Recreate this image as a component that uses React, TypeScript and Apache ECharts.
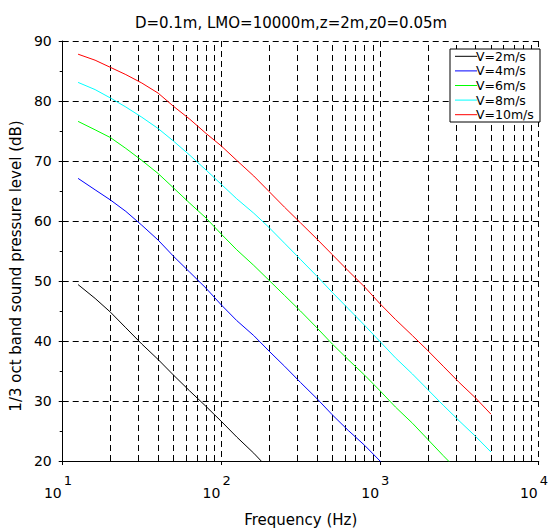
import React, { useEffect, useRef } from 'react';
import * as echarts from 'echarts';

const titleText = 'D=0.1m, LMO=10000m,z=2m,z0=0.05m';
const xName = 'Frequency (Hz)';
const yName = '1/3 oct band sound pressure level (dB)';

// 1/3-octave band centre frequencies (Hz)
const freqs = [12.5, 16, 20, 25, 31.5, 40, 50, 63, 80, 100, 125, 160, 200, 250, 315, 400, 500, 630, 800, 1000, 1250, 1600, 2000, 2500, 3150, 4000, 5000];

const v2 = [49.4, 47.1, 44.8, 42.2, 39.5, 36.9, 34.3, 31.7, 29.1, 26.6, 24.0, 21.3, 18.6];
const v4 = [67.1, 65.2, 63.5, 61.6, 59.3, 56.8, 54.1, 51.5, 48.8, 46.0, 43.4, 40.9, 38.3, 35.8, 33.1, 30.4, 27.7, 25.1, 22.6, 20.0, 17.4];
const v6 = [76.6, 75.2, 73.9, 72.1, 70.1, 67.9, 65.5, 63.0, 60.5, 57.8, 55.2, 52.6, 50.1, 47.6, 45.0, 42.2, 39.5, 36.9, 34.3, 31.7, 29.0, 26.3, 23.6, 20.9, 18.2];
const v8 = [83.1, 81.9, 80.5, 79.0, 77.3, 75.4, 73.3, 71.0, 68.5, 66.1, 63.7, 61.3, 58.9, 56.3, 53.6, 50.8, 48.1, 45.4, 42.6, 39.9, 37.2, 34.5, 31.9, 29.3, 26.7, 24.1, 21.5];
const v10 = [87.8, 86.8, 85.6, 84.4, 83.0, 81.3, 79.1, 77.0, 74.6, 72.5, 70.1, 67.5, 64.9, 62.3, 59.7, 57.0, 54.4, 51.7, 49.0, 46.2, 43.6, 40.9, 38.4, 35.8, 33.1, 30.5, 27.8];

const seriesNames = ['V=2m/s', 'V=4m/s', 'V=6m/s', 'V=8m/s', 'V=10m/s'];
const seriesValues = [v2, v4, v6, v8, v10];
const seriesColors = ['#000000', '#0000ff', '#00ff00', '#00ffff', '#ff0000'];

// log-minor grid positions
const minorGridFreqs = [20, 30, 40, 50, 60, 70, 80, 90, 200, 300, 400, 500, 600, 700, 800, 900, 2000, 3000, 4000, 5000, 6000, 7000, 8000, 9000];

const FONT = 'DejaVu Sans';

export default function App() {
  const ref = useRef<HTMLDivElement>(null);
  useEffect(() => {
    const chart = echarts.init(ref.current as HTMLDivElement, null, { renderer: 'svg' });
    const dash = { color: '#000', width: 1, type: [6, 4] as number[] };
    const lineSeries = seriesNames.map((name, i) => ({
      name,
      type: 'line',
      data: seriesValues[i].map((v, k) => [freqs[k], v]),
      symbol: 'none',
      clip: true,
      z: 3,
      lineStyle: { color: seriesColors[i], width: 1 },
      itemStyle: { color: seriesColors[i] },
    }));

    // legend box drawn as graphic
    const lgLeft = 450;
    const lgTop = 49;
    const rowH = 14.6;
    const legendChildren: any[] = [
      {
        type: 'rect',
        shape: { x: lgLeft, y: lgTop, width: 90, height: 73 },
        style: { fill: '#fff', stroke: '#000', lineWidth: 1 },
        z: 100,
      },
    ];
    seriesNames.forEach((name, i) => {
      const y = lgTop + 7.3 + i * rowH;
      legendChildren.push({
        type: 'line',
        shape: { x1: lgLeft + 5, y1: y, x2: lgLeft + 27, y2: y },
        style: { stroke: seriesColors[i], lineWidth: 1 },
        z: 101,
      });
      legendChildren.push({
        type: 'text',
        x: lgLeft + 26,
        y: y,
        style: {
          text: name,
          fill: '#000',
          font: `12.5px "${FONT}"`,
          textAlign: 'left',
          textVerticalAlign: 'middle',
        },
        z: 102,
      });
    });

    chart.setOption({
      animation: false,
      textStyle: { fontFamily: FONT },
      title: {
        text: titleText,
        left: 286,
        top: 10,
        textAlign: 'center',
        textStyle: { fontSize: 15, fontWeight: 'normal', color: '#000', fontFamily: FONT },
      },
      graphic: legendChildren,
      grid: { left: 61, right: 7, top: 41, bottom: 68.5, containLabel: false },
      xAxis: [
        {
          type: 'log',
          logBase: 10,
          min: 10,
          max: 10000,
          position: 'bottom',
          axisLine: { show: true, onZero: false, lineStyle: { color: '#000', width: 1 } },
          axisTick: { show: true, length: 4, lineStyle: { color: '#000' } },
          splitLine: { show: true, lineStyle: dash },
          axisLabel: {
            formatter: () => '10',
            align: 'right',
            margin: 25,
            padding: [0, 1, 0, 0],
            fontSize: 14,
            color: '#000',
            fontFamily: FONT,
            showMinLabel: true,
            showMaxLabel: true,
          },
          name: xName,
          nameLocation: 'middle',
          nameGap: 51,
          nameTextStyle: { fontSize: 15, color: '#000', fontFamily: FONT },
        },
        {
          type: 'log',
          logBase: 10,
          min: 10,
          max: 10000,
          position: 'bottom',
          axisLine: { show: false },
          axisTick: { show: false },
          splitLine: { show: false },
          axisLabel: {
            formatter: (v: number) => String(Math.round(Math.log10(v))),
            align: 'left',
            margin: 13,
            padding: [0, 0, 0, 1],
            fontSize: 13,
            color: '#000',
            fontFamily: FONT,
            showMinLabel: true,
            showMaxLabel: true,
          },
        },
      ],
      yAxis: {
        type: 'value',
        min: 20,
        max: 90,
        interval: 10,
        axisLine: { show: true, lineStyle: { color: '#000', width: 1 } },
        axisTick: { show: true, length: 4, lineStyle: { color: '#000' } },
        minorTick: { show: true, splitNumber: 2, length: 3, lineStyle: { color: '#000' } },
        splitLine: { show: true, lineStyle: dash },
        axisLabel: { fontSize: 14, color: '#000', margin: 11, fontFamily: FONT },
        name: yName,
        nameLocation: 'middle',
        nameGap: 37,
        nameTextStyle: { fontSize: 15, color: '#000', fontFamily: FONT, padding: [0, 30, 0, 0] },
      },
      series: [
        {
          name: 'minor-grid',
          type: 'line',
          data: [],
          silent: true,
          z: 1,
          markLine: {
            silent: true,
            symbol: 'none',
            z: 1,
            label: { show: false },
            lineStyle: dash,
            emphasis: { disabled: true },
            data: minorGridFreqs.map((f) => ({ xAxis: f })),
          },
        },
        ...lineSeries,
      ],
    });
    return () => chart.dispose();
  }, []);
  return <div ref={ref} style={{ position: 'absolute', left: 0, top: 0, width: 551, height: 532 }} />;
}
